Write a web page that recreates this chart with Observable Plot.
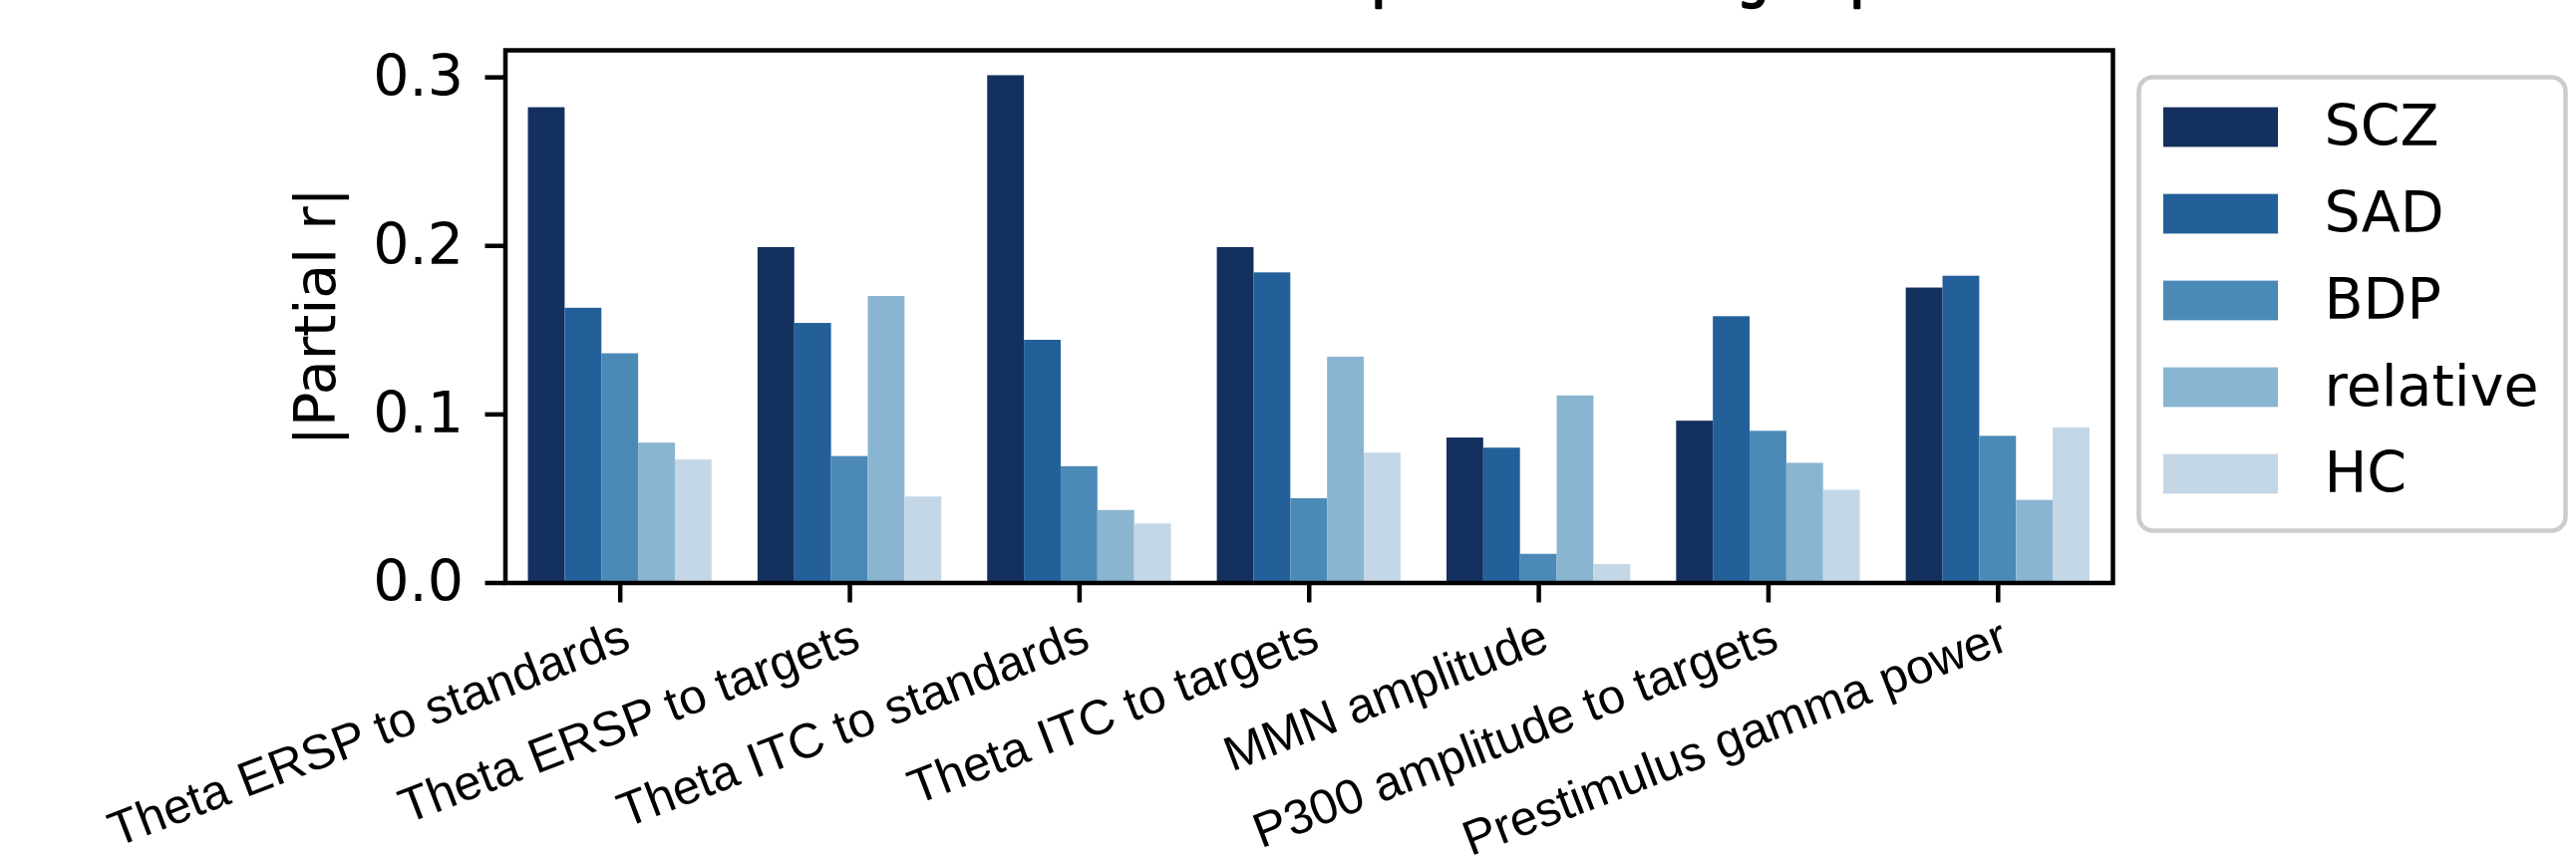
<!DOCTYPE html>
<html>
<head>
<meta charset="utf-8">
<script src="https://cdn.jsdelivr.net/npm/d3@7"></script>
<script src="https://cdn.jsdelivr.net/npm/@observablehq/plot@0.6"></script>
<style>
  html, body { margin: 0; padding: 0; background: #fff; overflow: hidden; }
  #wrap { position: relative; width: 2584px; height: 865px; }
  #legend { position: absolute; left: 2140px; top: 72px; }
</style>
</head>
<body>
<div id="wrap"><div id="main"></div><div id="legend"></div></div>
<script>
const titleText = "Correlation with BACS composite in each group";
const measures = [
  "Theta ERSP to standards",
  "Theta ERSP to targets",
  "Theta ITC to standards",
  "Theta ITC to targets",
  "MMN amplitude",
  "P300 amplitude to targets",
  "Prestimulus gamma power"
];
const groups = ["SCZ", "SAD", "BDP", "relative", "HC"];
const colors = ["#14305e", "#23609a", "#4b8ab6", "#8ab5d0", "#c4d7e7"];
const SCZ      = [0.282, 0.199, 0.301, 0.199, 0.086, 0.096, 0.175];
const SAD      = [0.163, 0.154, 0.144, 0.184, 0.080, 0.158, 0.182];
const BDP      = [0.136, 0.075, 0.069, 0.050, 0.017, 0.090, 0.087];
const relative = [0.083, 0.170, 0.043, 0.134, 0.111, 0.071, 0.049];
const HC       = [0.073, 0.051, 0.035, 0.077, 0.011, 0.055, 0.092];
const yTicks = [0, 0.1, 0.2, 0.3];
const yLabel = "|Partial r|";

const series = [SCZ, SAD, BDP, relative, HC];
const barW = 0.8 / groups.length;
const data = measures.flatMap((m, i) =>
  groups.map((g, j) => ({measure: m, i, group: g, j, value: series[j][i]}))
);
const yMax = d3.max(data, d => d.value) * 1.05;

const font = "DejaVu Sans";
const main = Plot.plot({
  width: 2584,
  height: 865,
  marginLeft: 506.5,
  marginRight: 465,
  marginTop: 50,
  marginBottom: 280.5,
  style: {fontFamily: font, background: "white", color: "black"},
  x: {type: "linear", domain: [-0.5, measures.length - 0.5]},
  y: {domain: [0, yMax]},
  color: {domain: groups, range: colors},
  marks: [
    Plot.rect(data, {
      x1: d => d.i + (d.j - (groups.length - 1) / 2) * barW - barW / 2,
      x2: d => d.i + (d.j - (groups.length - 1) / 2) * barW + barW / 2,
      y1: () => 0,
      y2: "value",
      fill: "group"
    }),
    Plot.frame({stroke: "black", strokeWidth: 4.5}),
    Plot.axisY({ticks: yTicks, tickFormat: d3.format(".1f"), tickSize: 20, tickPadding: 22,
      fontSize: 57, strokeWidth: 4.5, label: null}),
    Plot.axisX({ticks: d3.range(measures.length), tickSize: 20, tickFormat: () => "",
      strokeWidth: 4.5, label: null}),
    Plot.text(measures, {x: (d, i) => i, text: d => d, frameAnchor: "bottom", dy: 34,
      rotate: -21, textAnchor: "end", lineAnchor: "top", fontSize: 49,
      fontFamily: "Liberation Sans", fill: "black"}),
    Plot.text([yLabel], {text: d => d, frameAnchor: "left", rotate: -90, dx: -189,
      textAnchor: "middle", lineAnchor: "middle", fontSize: 57, fill: "black"}),
    Plot.text([titleText], {text: d => d, frameAnchor: "top", lineAnchor: "middle",
      dy: -68.2, dx: -16.7, fontSize: 50, fill: "black", stroke: "black", strokeWidth: 2.5})
  ]
});
document.getElementById("main").appendChild(main);

const legend = Plot.plot({
  width: 440,
  height: 465,
  marginLeft: 30,
  marginRight: 295,
  marginTop: 0,
  marginBottom: 0,
  style: {fontFamily: font, background: "transparent"},
  y: {domain: groups, range: [11.4, 447.6], padding: 0, axis: null},
  color: {domain: groups, range: colors},
  marks: [
    Plot.frame({stroke: "#cccccc", strokeWidth: 4.5, fill: "white", rx: 14,
      insetLeft: -25, insetRight: -288, insetTop: 5, insetBottom: 5}),
    Plot.cell(groups, {y: d => d, fill: d => d, insetTop: 23.6, insetBottom: 23.6}),
    Plot.text(groups, {y: d => d, text: d => d, frameAnchor: "right", dx: 46,
      textAnchor: "start", lineAnchor: "middle", fontSize: 57, fill: "black"})
  ]
});
document.getElementById("legend").appendChild(legend);
</script>
</body>
</html>
